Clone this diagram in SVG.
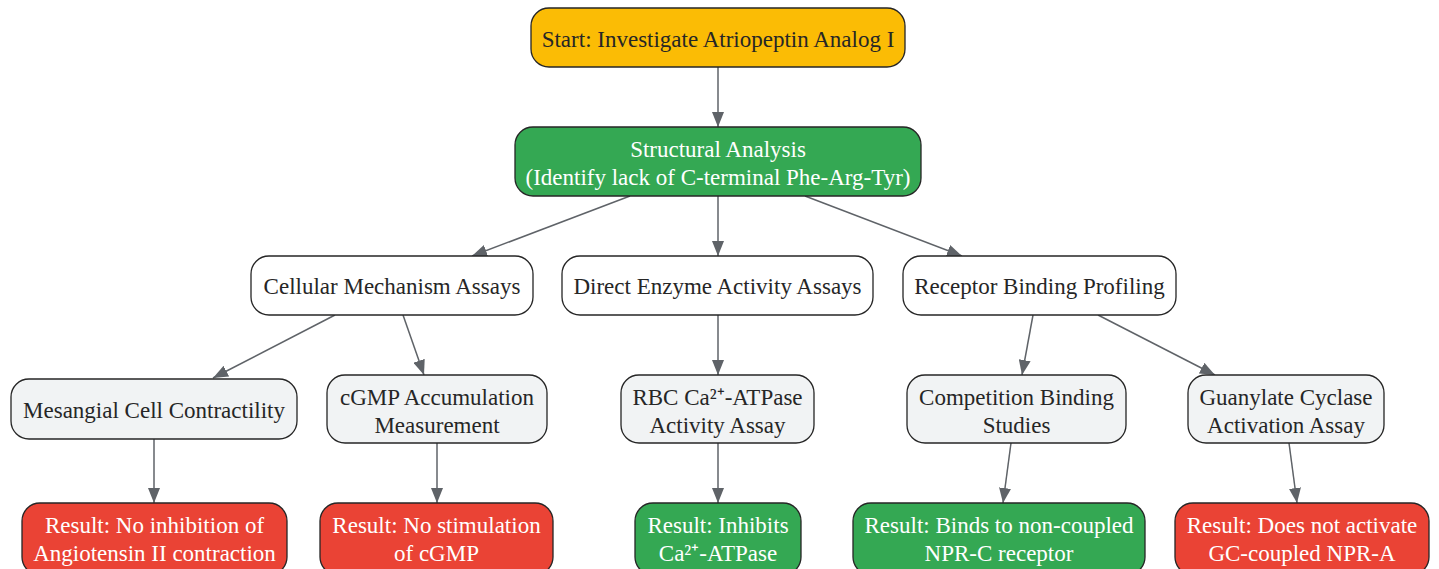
<svg xmlns="http://www.w3.org/2000/svg" width="1439" height="569" viewBox="0 0 1439 569">
<defs>
<marker id="ah" viewBox="0 0 15 12" refX="15" refY="6" markerWidth="15" markerHeight="12" markerUnits="userSpaceOnUse" orient="auto">
<path d="M0,0 L15,6 L0,12 z" fill="#5f6368"/>
</marker>
<style>
.n{stroke:#262626;stroke-width:1.3}
.t{font-family:"Liberation Serif","Times New Roman",serif;font-size:23px;text-anchor:middle;fill:#262626}
.w{fill:#ffffff}
.e{stroke:#5f6368;stroke-width:1.5;fill:none;marker-end:url(#ah)}
</style>
</defs>
<rect width="1439" height="569" fill="#ffffff"/>
<g id="connectors">
<path class="e" d="M718,67 L718,127"/>
<path class="e" d="M630,196 L472,256"/>
<path class="e" d="M718,196 L718,256"/>
<path class="e" d="M805,196 L962,256"/>
<path class="e" d="M335,315 L213,378"/>
<path class="e" d="M403,315 L424,375"/>
<path class="e" d="M718,315 L718,375"/>
<path class="e" d="M1033,315 L1022,375"/>
<path class="e" d="M1098,315 L1215,375"/>
<path class="e" d="M154,439 L154,503"/>
<path class="e" d="M437,443 L437,503"/>
<path class="e" d="M718,443 L718,503"/>
<path class="e" d="M1011,443 L1003,503"/>
<path class="e" d="M1289,443 L1297,503"/>
</g>
<g id="start"><rect class="n" x="531" y="8" width="374" height="59" rx="18" fill="#fbbc05"/><text class="t" x="718" y="47">Start: Investigate Atriopeptin Analog I</text></g>
<g id="structural"><rect class="n" x="515" y="127" width="406" height="69" rx="18" fill="#34a853"/><text class="t w" x="718" y="157">Structural Analysis</text><text class="t w" x="718" y="185">(Identify lack of C-terminal Phe-Arg-Tyr)</text></g>
<g id="cellular"><rect class="n" x="251" y="256" width="282" height="59" rx="18" fill="#ffffff"/><text class="t" x="392" y="294">Cellular Mechanism Assays</text></g>
<g id="direct"><rect class="n" x="562" y="256" width="311" height="59" rx="18" fill="#ffffff"/><text class="t" x="717.5" y="294">Direct Enzyme Activity Assays</text></g>
<g id="receptor"><rect class="n" x="903" y="256" width="273" height="59" rx="18" fill="#ffffff"/><text class="t" x="1039.5" y="294">Receptor Binding Profiling</text></g>
<g id="mesangial"><rect class="n" x="11" y="379" width="286" height="60" rx="18" fill="#f1f3f4"/><text class="t" x="154" y="418">Mesangial Cell Contractility</text></g>
<g id="cgmp"><rect class="n" x="327" y="375" width="220" height="68" rx="18" fill="#f1f3f4"/><text class="t" x="437" y="405">cGMP Accumulation</text><text class="t" x="437" y="433">Measurement</text></g>
<g id="rbc"><rect class="n" x="621" y="375" width="193" height="68" rx="18" fill="#f1f3f4"/><text class="t" x="717.5" y="405">RBC Ca²⁺-ATPase</text><text class="t" x="717.5" y="433">Activity Assay</text></g>
<g id="competition"><rect class="n" x="907" y="375" width="219" height="68" rx="18" fill="#f1f3f4"/><text class="t" x="1016.5" y="405">Competition Binding</text><text class="t" x="1016.5" y="433">Studies</text></g>
<g id="guanylate"><rect class="n" x="1188" y="375" width="196" height="68" rx="18" fill="#f1f3f4"/><text class="t" x="1286" y="405">Guanylate Cyclase</text><text class="t" x="1286" y="433">Activation Assay</text></g>
<g id="result1"><rect class="n" x="22" y="503" width="265" height="72" rx="18" fill="#ea4335"/><text class="t w" x="154.5" y="533">Result: No inhibition of</text><text class="t w" x="154.5" y="561">Angiotensin II contraction</text></g>
<g id="result2"><rect class="n" x="320" y="503" width="233" height="72" rx="18" fill="#ea4335"/><text class="t w" x="436.5" y="533">Result: No stimulation</text><text class="t w" x="436.5" y="561">of cGMP</text></g>
<g id="result3"><rect class="n" x="635" y="503" width="166" height="72" rx="18" fill="#34a853"/><text class="t w" x="718" y="533">Result: Inhibits</text><text class="t w" x="718" y="561">Ca²⁺-ATPase</text></g>
<g id="result4"><rect class="n" x="853" y="503" width="292" height="72" rx="18" fill="#34a853"/><text class="t w" x="999" y="533">Result: Binds to non-coupled</text><text class="t w" x="999" y="561">NPR-C receptor</text></g>
<g id="result5"><rect class="n" x="1175" y="503" width="254" height="72" rx="18" fill="#ea4335"/><text class="t w" x="1302" y="533">Result: Does not activate</text><text class="t w" x="1302" y="561">GC-coupled NPR-A</text></g>
</svg>
